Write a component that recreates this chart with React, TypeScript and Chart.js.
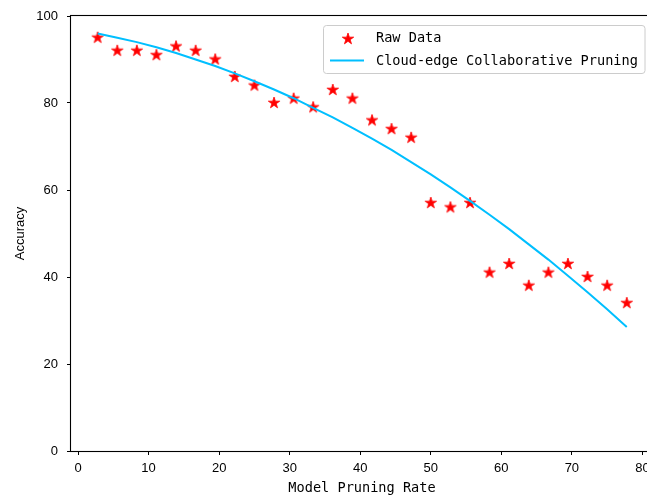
import React, { useEffect, useRef } from "react";
import { Chart, registerables } from "chart.js";

Chart.register(...registerables);

// ---- data ----
const pruningRate = [
  2.78, 5.56, 8.33, 11.11, 13.89, 16.67, 19.44, 22.22, 25.0, 27.78, 30.56, 33.33, 36.11, 38.89,
  41.67, 44.44, 47.22, 50.0, 52.78, 55.56, 58.33, 61.11, 63.89, 66.67, 69.44, 72.22, 75.0, 77.78,
];
const rawAccuracy = [
  95, 92, 92, 91, 93, 92, 90, 86, 84, 80, 81, 79, 83, 81,
  76, 74, 72, 57, 56, 57, 41, 43, 38, 41, 43, 40, 38, 34,
];
const fittedAccuracy = [
  96.0, 95.0, 94.0, 92.8, 91.5, 90.0, 88.5, 86.8, 85.0, 83.1, 81.1, 78.9, 76.7, 74.3,
  71.8, 69.2, 66.4, 63.6, 60.6, 57.5, 54.3, 51.0, 47.5, 44.0, 40.3, 36.5, 32.6, 28.5,
];
const xTickValues = [0, 10, 20, 30, 40, 50, 60, 70, 80];
const yTickValues = [0, 20, 40, 60, 80, 100];
const seriesLabels = ["Raw Data", "Cloud-edge Collaborative Pruning"];
const xTitle = "Model Pruning Rate";
const yTitle = "Accuracy";

const MONO = "'DejaVu Sans Mono', monospace";
const SANS = "'Liberation Sans', Arial, sans-serif";

function makeStar(color: string, R: number): HTMLCanvasElement {
  const size = 16;
  const c = document.createElement("canvas");
  c.width = size;
  c.height = size;
  const ctx = c.getContext("2d")!;
  const cx = size / 2;
  const cy = size / 2;
  const r = R * 0.381966;
  ctx.beginPath();
  for (let i = 0; i < 10; i++) {
    const ang = -Math.PI / 2 + (i * Math.PI) / 5;
    const rad = i % 2 === 0 ? R : r;
    ctx.lineTo(cx + rad * Math.cos(ang), cy + rad * Math.sin(ang));
  }
  ctx.closePath();
  ctx.fillStyle = color;
  ctx.fill();
  ctx.strokeStyle = color;
  ctx.lineWidth = 0.8;
  ctx.stroke();
  return c;
}

const framePlugin = {
  id: "frame",
  afterDraw(chart: any) {
    const { ctx, chartArea } = chart;
    const { left, top, right, bottom } = chartArea;
    ctx.save();
    ctx.strokeStyle = "#000";
    ctx.lineWidth = 1.1;
    ctx.strokeRect(left - 0.5, top - 0.5, right - left + 1, bottom - top + 1);
    ctx.restore();
  },
};

const legendPlugin = {
  id: "mplLegend",
  afterDraw(chart: any) {
    const ctx = chart.ctx;
    const ds = chart.data.datasets;
    const bx = 323.5, by = 25.5, bw = 321.5, bh = 48, rad = 3;
    ctx.save();
    ctx.beginPath();
    ctx.moveTo(bx + rad, by);
    ctx.lineTo(bx + bw - rad, by);
    ctx.arcTo(bx + bw, by, bx + bw, by + rad, rad);
    ctx.lineTo(bx + bw, by + bh - rad);
    ctx.arcTo(bx + bw, by + bh, bx + bw - rad, by + bh, rad);
    ctx.lineTo(bx + rad, by + bh);
    ctx.arcTo(bx, by + bh, bx, by + bh - rad, rad);
    ctx.lineTo(bx, by + rad);
    ctx.arcTo(bx, by, bx + rad, by, rad);
    ctx.closePath();
    ctx.fillStyle = "rgba(255,255,255,0.8)";
    ctx.fill();
    ctx.strokeStyle = "#cccccc";
    ctx.lineWidth = 1;
    ctx.stroke();

    // entry 1: star
    const img = ds[0].pointStyle as HTMLCanvasElement;
    ctx.drawImage(img, 348 - img.width / 2, 39 - img.height / 2);
    // entry 2: line
    ctx.beginPath();
    ctx.moveTo(330, 60.5);
    ctx.lineTo(364, 60.5);
    ctx.strokeStyle = ds[1].borderColor;
    ctx.lineWidth = 2;
    ctx.stroke();

    ctx.fillStyle = "#000";
    ctx.font = `13.6px ${MONO}`;
    ctx.textBaseline = "middle";
    ctx.textAlign = "left";
    ctx.fillText(ds[0].label, 376, 38.5);
    ctx.fillText(ds[1].label, 376, 61);
    ctx.restore();
  },
};

export default function App() {
  const canvasRef = useRef<HTMLCanvasElement | null>(null);

  useEffect(() => {
    const canvas = canvasRef.current;
    if (!canvas) return;
    const star = makeStar("#ff0000", 6.0);

    const chart = new Chart(canvas, {
      type: "scatter",
      data: {
        datasets: [
          {
            type: "scatter",
            label: seriesLabels[0],
            data: pruningRate.map((x, i) => ({ x, y: rawAccuracy[i] })),
            pointStyle: star as any,
            pointRadius: 6,
            backgroundColor: "#ff0000",
            borderColor: "#ff0000",
            order: 1,
          } as any,
          {
            type: "line",
            label: seriesLabels[1],
            data: pruningRate.map((x, i) => ({ x, y: fittedAccuracy[i] })),
            borderColor: "#00BFFF",
            backgroundColor: "#00BFFF",
            borderWidth: 2,
            pointRadius: 0,
            showLine: true,
            fill: false,
            tension: 0,
            order: 0,
          } as any,
        ],
      },
      options: {
        responsive: false,
        animation: false,
        events: [],
        layout: { autoPadding: false, padding: { top: 16, right: 0, left: 0, bottom: 0 } },
        plugins: {
          legend: { display: false },
          tooltip: { enabled: false },
        },
        scales: {
          x: {
            type: "linear",
            min: -1.0,
            max: 81.5,
            afterBuildTicks: (scale: any) => {
              scale.ticks = xTickValues.map((v) => ({ value: v }));
            },
            afterFit: (scale: any) => {
              scale.height = 46;
              scale.paddingLeft = 0;
              scale.paddingRight = 0;
              scale.paddingTop = 0;
              scale.paddingBottom = 0;
            },
            ticks: {
              color: "#000",
              font: { family: SANS, size: 13 },
              padding: 6,
              maxRotation: 0,
              autoSkip: false,
            },
            grid: {
              display: true,
              drawOnChartArea: false,
              drawTicks: true,
              tickLength: 4,
              color: "#000",
              tickColor: "#000",
              lineWidth: 1,
            },
            border: { display: false },
            title: {
              display: true,
              text: xTitle,
              color: "#000",
              font: { family: MONO, size: 13.6 },
              padding: { top: 0, bottom: 0 },
            },
          },
          y: {
            type: "linear",
            min: 0,
            max: 100,
            afterBuildTicks: (scale: any) => {
              scale.ticks = yTickValues.map((v) => ({ value: v }));
            },
            afterFit: (scale: any) => {
              scale.width = 71;
              scale.paddingLeft = 0;
              scale.paddingRight = 0;
              scale.paddingTop = 0;
              scale.paddingBottom = 0;
            },
            ticks: {
              color: "#000",
              font: { family: SANS, size: 13 },
              padding: 9,
              autoSkip: false,
            },
            grid: {
              display: true,
              drawOnChartArea: false,
              drawTicks: true,
              tickLength: 4,
              color: "#000",
              tickColor: "#000",
              lineWidth: 1,
            },
            border: { display: false },
            title: {
              display: true,
              text: yTitle,
              color: "#000",
              font: { family: SANS, size: 13 },
              padding: { top: 13, bottom: 0 },
            },
          },
        },
      },
      plugins: [framePlugin, legendPlugin],
    });

    return () => {
      chart.destroy();
    };
  }, []);

  return (
    <div
      style={{
        position: "absolute",
        left: 0,
        top: 0,
        width: 647,
        height: 497,
        overflow: "hidden",
        background: "#fff",
      }}
    >
      <canvas ref={canvasRef} width={653} height={497} style={{ display: "block" }} />
    </div>
  );
}
